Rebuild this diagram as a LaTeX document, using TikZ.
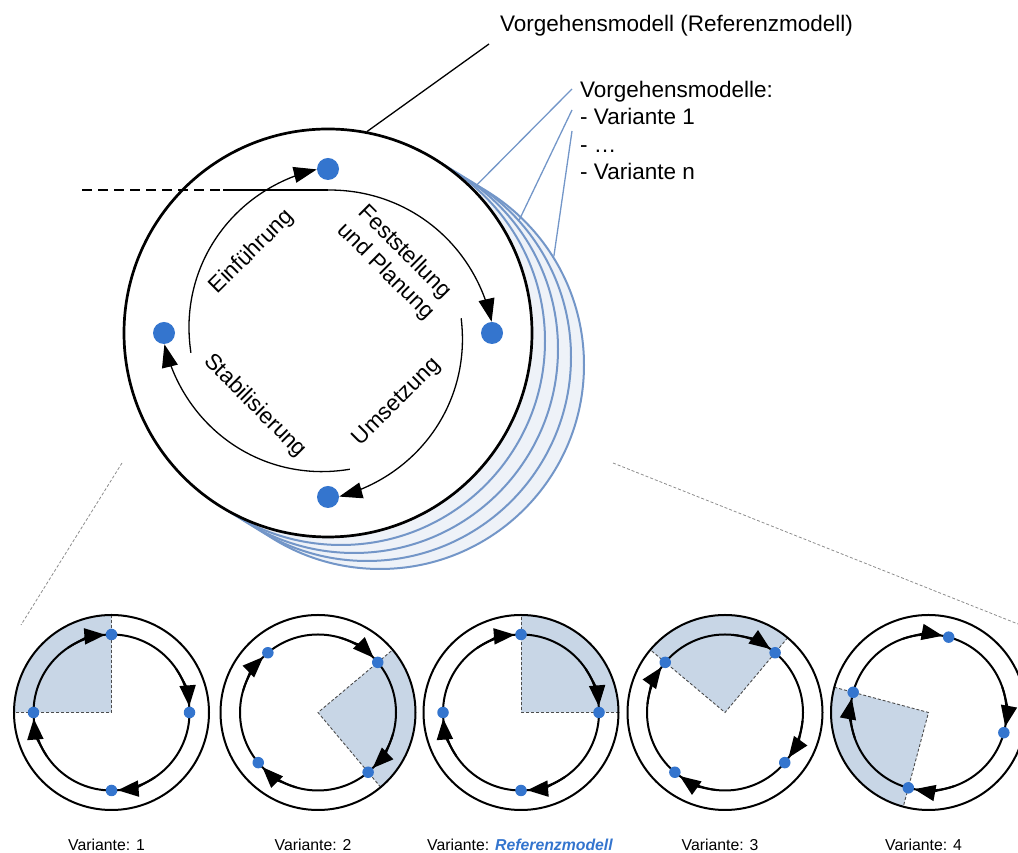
\documentclass[tikz,border=0pt]{standalone}
\usepackage{fontspec}
\setmainfont{Liberation Sans}
\usetikzlibrary{arrows.meta}
\definecolor{dotblue}{RGB}{52,117,206}
\definecolor{stackline}{RGB}{115,150,200}
\definecolor{stackfill}{RGB}{238,242,248}
\definecolor{phasefill}{RGB}{200,214,230}
\tikzset{
  pdot/.style={circle,fill=dotblue,inner sep=0pt,minimum size=#1},
  parrow/.style={line width=1.3pt,-{Triangle[length=23pt,width=16pt]}},
  sarrow/.style={line width=2pt,-{Triangle[length=21pt,width=16pt]}},
  sdash/.style={black!70,line width=0.9pt,dash pattern=on 3pt off 2pt},
  gdash/.style={black!45,line width=0.8pt,dash pattern=on 3pt off 2pt},
  stack/.style={circle,draw=stackline,fill=stackfill,line width=2pt,minimum size=408pt,inner sep=0pt},
  smalltxt/.style={font=\fontsize{15.8}{19}\selectfont,anchor=base}
}
\begin{document}
\begin{tikzpicture}[x=1pt,y=1pt,font=\fontsize{22.5}{27.3}\selectfont]
\useasboundingbox (0,0) rectangle (1018,853);
\clip (0,0) rectangle (1018,853);
\coordinate (M) at (328,520);
\foreach \i in {4,3,2,1}{\node[stack] (b\i) at (328+13*\i,520-8*\i) {};}
\node[circle,draw,fill=white,line width=2.7pt,minimum size=408pt,inner sep=0pt] (mc) at (M) {};
\foreach \a/\n in {90/dt,0/dr,-90/db,180/dl}{\node[pdot=22pt] (\n) at ([shift={(\a:164)}]M) {};}
\begin{scope}[shift={(M)}]
\def\parc#1#2#3#4{\draw[parrow] plot[domain=0.001:1,samples=40,smooth] ({(#1)+((#3)-(#1))*\x}:{(#2)+((#4)-(#2))*\x^1.7});}
\parc{188.3}{138.5}{93.9}{164}
\parc{90}{143}{3.9}{164}
\parc{6.4}{134}{-86.1}{164}
\parc{-80.8}{138}{-176.1}{164}
\end{scope}
\coordinate (hl) at (82,663); \coordinate (hm) at (223,663);
\draw[line width=1.3pt,dash pattern=on 10pt off 6pt] (hl) -- (hm);
\draw[line width=1.3pt] (hm) -- ([shift={(90:143)}]M);
\node[rotate=45] (lein) at (252,601) {Einführung};
\node[rotate=-45,align=center] (lfest) at (395,591) {Feststellung\\und Planung};
\node[rotate=45] (lums) at (397,451) {Umsetzung};
\node[rotate=-45] (lstab) at (255,447) {Stabilisierung};
\node[anchor=base west,inner sep=0pt] (title) at (500,821.5) {Vorgehensmodell (Referenzmodell)};
\coordinate (tl) at (489,809);
\draw[line width=1.3pt] (mc.79) -- (tl);
\node[anchor=north west,inner sep=0pt,align=left] (vars) at (580,772) {Vorgehensmodelle:\\- Variante 1\\- …\\- Variante n};
\foreach \y/\b/\a in {764/b1/49,743/b3/42,722/b4/32}{\coordinate (s\b) at (572,\y); \draw[stackline,line width=1.3pt] (s\b) -- (\b.\a);}
\coordinate (gl1) at (122,390); \coordinate (gl2) at (21,228);
\coordinate (gr1) at (613,390); \coordinate (gr2) at (1018,229);
\draw[gdash] (gl1) -- (gl2);
\draw[gdash] (gr1) -- (gr2);
\def\vc#1#2#3#4{
\begin{scope}[shift={(#2,140.5)}]
\fill[phasefill] (0,0) -- (#4:97.5) arc[start angle=#4,end angle=#4+90,radius=97.5] -- cycle;
\draw[sdash] (#4:97.5) -- (0,0) -- (#4+90:97.5);
\node[circle,draw,line width=2pt,minimum size=195pt,inner sep=0pt] (#1) at (0,0) {};
\draw[line width=2pt] (0,0) circle[radius=78];
\foreach \a in {0,90,180,270}{\draw[sarrow] (\a+#3+34:78) arc[start angle=\a+#3+34,end angle=\a+#3+4.5,radius=78]; \node[pdot=11.5pt] (#1-\a) at (\a+#3:78) {};}
\end{scope}}
\vc{var1}{111.5}{0}{90}
\vc{var2}{318}{40}{-50}
\vc{varref}{521}{0}{0}
\vc{var3}{725}{50}{50}
\vc{var4}{928.5}{-15}{165}
\foreach \n/\x/\t in {l1/106.5/{Variante: 1},l2/313/{Variante: 2},l3/720/{Variante: 3},l4/923.5/{Variante: 4}}{\node[smalltxt] (\n) at (\x,2.5) {\t};}
\node[smalltxt] (lref) at (520,2.5) {Variante: \textcolor{dotblue}{\bfseries\itshape Referenzmodell}};
\end{tikzpicture}
\end{document}
